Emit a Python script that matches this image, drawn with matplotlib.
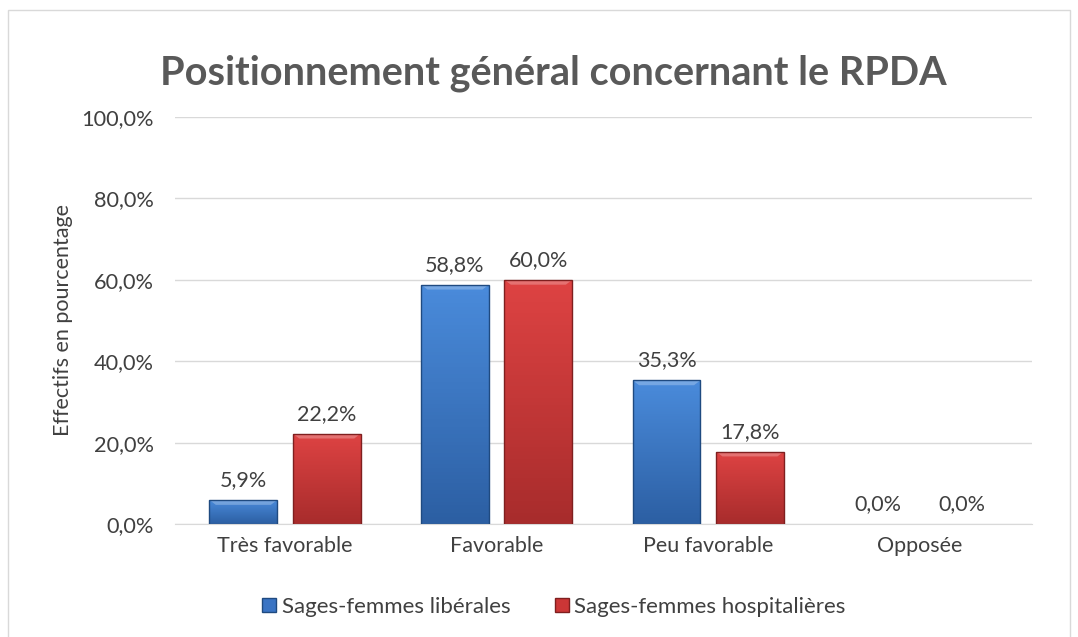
import matplotlib.pyplot as plt
import matplotlib.patches as mpatches
from matplotlib.colors import LinearSegmentedColormap
import numpy as np

categories = ["Très favorable", "Favorable", "Peu favorable", "Opposée"]
liberales = [5.9, 58.8, 35.3, 0.0]
hospitalieres = [22.2, 60.0, 17.8, 0.0]
series_names = ["Sages-femmes libérales", "Sages-femmes hospitalières"]
yticks = [0, 20, 40, 60, 80, 100]

plt.rcParams['font.family'] = ['Lato', 'DejaVu Sans']
txt = '#404040'

fig = plt.figure(figsize=(10.78, 6.37), dpi=100)
fig.patches.append(mpatches.Rectangle((8/1078, -0.05), 1062/1078, 1 - 10/637 + 0.05,
                                      transform=fig.transFigure, fill=False,
                                      edgecolor='#D9D9D9', lw=1))
ax = fig.add_axes([175/1078, 1 - 524/637, 857/1078, 407/637])

x = np.arange(len(categories))
w = 0.32
off = 0.197


def bevel_bars(xs, vals, top, bottom, edge):
    cmap = LinearSegmentedColormap.from_list('g', [bottom, top])
    grad = np.linspace(0, 1, 64).reshape(-1, 1)
    bars = ax.bar(xs, vals, w, color='none', edgecolor=edge, lw=1, zorder=3)
    for b in bars:
        x0, y0 = b.get_x(), b.get_y()
        bw, bh = b.get_width(), b.get_height()
        if bh <= 0:
            b.set_linewidth(0)
            continue
        im = ax.imshow(grad, cmap=cmap, aspect='auto', origin='lower',
                       extent=(x0, x0 + bw, y0, y0 + bh), zorder=2)
        im.set_clip_path(b)
        # top bevel highlight
        d = min(1.2, bh * 0.3)
        dx = 0.03
        ax.add_patch(mpatches.Polygon([(x0, y0 + bh), (x0 + bw, y0 + bh),
                                       (x0 + bw - dx, y0 + bh - d), (x0 + dx, y0 + bh - d)],
                                      closed=True, facecolor='white', alpha=0.25,
                                      edgecolor='none', zorder=2.5))
    return bars


b1 = bevel_bars(x - off, liberales, '#4A8BDB', '#2C5FA3', '#1F4A80')
b2 = bevel_bars(x + off, hospitalieres, '#DE4343', '#A82C2C', '#7F1F1F')

for xs, vals in ((x - off, liberales), (x + off, hospitalieres)):
    for xi, v in zip(xs, vals):
        ax.text(xi, v + 2.4, f"{v:.1f}%".replace('.', ','), ha='center', va='bottom',
                fontsize=15.5, color=txt)

ax.set_xlim(-0.52, 3.53)
ax.set_ylim(0, 100)
ax.set_yticks(yticks)
ax.set_yticklabels([f"{t:.1f}%".replace('.', ',') for t in yticks], fontsize=15.7, color=txt)
ax.set_xticks(x)
ax.set_xticklabels(categories, fontsize=15.5, color=txt)
ax.tick_params(length=0, pad=9)
ax.tick_params(axis='y', pad=15)
ax.yaxis.grid(True, color='#D9D9D9', lw=1)
ax.set_axisbelow(True)
for s in ('top', 'right', 'left'):
    ax.spines[s].set_visible(False)
ax.spines['bottom'].set_color('#D9D9D9')
ax.set_ylabel("Effectifs en pourcentage", fontsize=15.5, color=txt, labelpad=6)

fig.text(553/1078, 1 - 73/637, "Positionnement général concernant le RPDA",
         ha='center', va='center', fontsize=28.5, fontweight='bold', color='#595959')

handles = [mpatches.Patch(facecolor='#3A74C4', edgecolor='#1F4A80'),
           mpatches.Patch(facecolor='#CC3636', edgecolor='#7F1F1F')]
fig.legend(handles, series_names, loc='center', bbox_to_anchor=(554/1078, 1 - 607/637),
           ncol=2, frameon=False, fontsize=16, handlelength=0.62, handleheight=0.62,
           handletextpad=0.25, columnspacing=2.0, labelcolor=txt)

fig.savefig('out.png', dpi=100)
